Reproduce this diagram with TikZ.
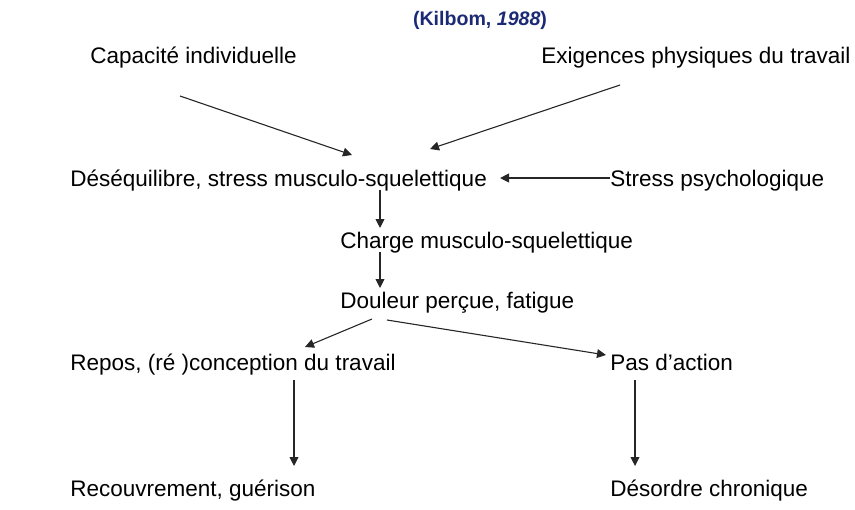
\documentclass[tikz,border=0pt]{standalone}
\usepackage{fontspec}
\setmainfont{Liberation Sans}
\usepackage{xcolor}
\usetikzlibrary{arrows.meta,calc}
\definecolor{refcolor}{HTML}{1C2A75}
\tikzset{label text/.style={anchor=base west,inner sep=0pt,font=\fontsize{11.25}{13}\selectfont},ref label/.style={anchor=base,inner sep=0pt,text=refcolor,font=\fontsize{9.8}{12}\selectfont\bfseries},flow edge/.style={-{Triangle[length=4.5pt,width=4.4pt]},line width=0.55pt,draw=black!85}}

\begin{document}
\begin{tikzpicture}[x=0.5pt,y=-0.5pt]
 \useasboundingbox (0,0) rectangle (855,509);
 \node[ref label] (ref) at (480,25) {(Kilbom, \textit{1988})};
 \node[label text] (cap) at (90,63) {Capacité individuelle};
 \node[label text] (exig) at (541,63) {Exigences physiques du travail};
 \node[label text] (deseq) at (70,186) {Déséquilibre, stress musculo-squelettique};
 \node[label text] (psy) at (610,186) {Stress psychologique};
 \node[label text] (charge) at (340,248) {Charge musculo-squelettique};
 \node[label text] (doul) at (340,308) {Douleur perçue, fatigue};
 \node[label text] (repos) at (70,370) {Repos, (ré )conception du travail};
 \node[label text] (pas) at (610,370) {Pas d'action};
 \node[label text] (recouv) at (70,496) {Recouvrement, guérison};
 \node[label text] (desord) at (610,496) {Désordre chronique};
 % vers le desequilibre
 \draw[flow edge] ($(cap.base west)+(90,33)$) -- ($(deseq.base west)+(282,-31)$);
 \draw[flow edge] ($(exig.base west)+(79,22)$) -- ($(deseq.base west)+(360,-37)$);
 \draw[flow edge] ($(psy.base west)+(0,-8)$) -- ($(deseq.base west)+(430,-8)$);
 % chaine verticale
 \draw[flow edge] ($(deseq.base west)+(310,4)$) -- ($(charge.base west)+(40,-20)$);
 \draw[flow edge] ($(charge.base west)+(40,4)$) -- ($(doul.base west)+(40,-20)$);
 \draw[flow edge] ($(doul.base west)+(32,11)$) -- ($(repos.base west)+(235,-23)$);
 \draw[flow edge] ($(doul.base west)+(47,12)$) -- ($(pas.base west)+(-4,-15)$);
 \draw[flow edge] ($(repos.base west)+(224,10)$) -- ($(recouv.base west)+(224,-30)$);
 \draw[flow edge] ($(pas.base west)+(25,10)$) -- ($(desord.base west)+(25,-30)$);
\end{tikzpicture}
\end{document}
